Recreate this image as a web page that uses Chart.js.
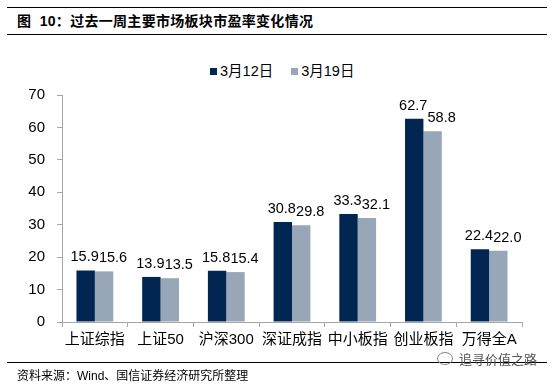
<!DOCTYPE html>
<html>
<head>
<meta charset="utf-8">
<script src="https://cdn.jsdelivr.net/npm/chart.js@4"></script>
<style>
  body { margin: 0; background: #fff; }
  #wrap { position: relative; width: 556px; height: 384px; overflow: hidden;
          font-family: "Liberation Sans", "Noto Sans CJK SC", sans-serif; }
  canvas { position: absolute; left: 0; top: 0; }
  .rule { position: absolute; left: 7px; width: 540px; height: 1px; background: #000; }
  #title { position: absolute; left: 17px; top: 12px; font-size: 14px; font-weight: bold; line-height: 18px; white-space: nowrap; letter-spacing: 0.3px; }
  #legend { position: absolute; top: 62px; left: 210px; font-size: 14.5px; line-height: 18px; white-space: nowrap; }
  #legend span.box { display: inline-block; width: 7px; height: 7px; margin-right: 3px; vertical-align: 1px; }
  #legend span.item { margin-right: 18px; }
  #source { position: absolute; left: 17px; top: 368px; font-size: 12px; line-height: 16px; white-space: nowrap; }
  #mark { position: absolute; left: 437px; top: 352px; font-size: 13px; line-height: 16px; color: #555; white-space: nowrap; }
  #mark i { display: inline-block; width: 14px; height: 11px; border: 1px solid #888; border-radius: 50%; margin-right: 6px; vertical-align: -1px; }
</style>
</head>
<body>
<div id="wrap">
  <div class="rule" style="top:7px"></div>
  <div id="title">图&nbsp;&nbsp;10：过去一周主要市场板块市盈率变化情况</div>
  <div class="rule" style="top:34px"></div>
  <div id="legend"></div>
  <canvas id="chart" width="556" height="384"></canvas>
  <div class="rule" style="top:362px"></div>
  <div id="mark"><i></i>追寻价值之路</div>
  <div id="source">资料来源：Wind、国信证券经济研究所整理</div>
</div>
<script>
// categories and values
const categories = ["上证综指", "上证50", "沪深300", "深证成指", "中小板指", "创业板指", "万得全A"];
const seriesNames = ["3月12日", "3月19日"];
const mar12 = [15.9, 13.9, 15.8, 30.8, 33.3, 62.7, 22.4];
const mar19 = [15.6, 13.5, 15.4, 29.8, 32.1, 58.8, 22.0];
const yTicks = [0, 10, 20, 30, 40, 50, 60, 70];

const colors = ['#002651', '#97a7b7'];
const fontFamily = '"Liberation Sans", "Noto Sans CJK SC", sans-serif';

// value labels above each bar, second series nudged right like the original
const barLabels = {
  id: 'barLabels',
  afterDatasetsDraw(chart) {
    const ctx = chart.ctx;
    ctx.save();
    ctx.font = '14.5px ' + fontFamily;
    ctx.fillStyle = '#000';
    ctx.textAlign = 'center';
    ctx.textBaseline = 'alphabetic';
    chart.data.datasets.forEach((ds, i) => {
      const meta = chart.getDatasetMeta(i);
      meta.data.forEach((bar, j) => {
        const shift = i === 1 ? 9 : -1;
        ctx.fillText(ds.data[j].toFixed(1), bar.x + shift, bar.y - 9);
      });
    });
    ctx.restore();
  }
};

const axisGrid = {
  drawOnChartArea: false,
  drawTicks: true,
  tickLength: 5,
  color: '#a6a6a6'
};

const chart = new Chart(document.getElementById('chart'), {
  type: 'bar',
  data: {
    labels: categories,
    datasets: [
      { label: seriesNames[0], data: mar12, backgroundColor: colors[0] },
      { label: seriesNames[1], data: mar19, backgroundColor: colors[1] }
    ]
  },
  options: {
    responsive: false,
    animation: false,
    categoryPercentage: 0.56,
    barPercentage: 1.0,
    layout: { padding: { left: 0, right: 34, top: 95, bottom: 32 } },
    plugins: {
      legend: { display: false },
      tooltip: { enabled: false }
    },
    scales: {
      x: {
        grid: axisGrid,
        border: { color: '#a6a6a6' },
        ticks: { color: '#000', font: { family: fontFamily, size: 15 }, padding: 4, maxRotation: 0 },
        afterFit: (s) => { s.height = 30; }
      },
      y: {
        min: yTicks[0],
        max: yTicks[yTicks.length - 1],
        afterBuildTicks: (s) => { s.ticks = yTicks.map(v => ({ value: v })); },
        grid: axisGrid,
        border: { color: '#a6a6a6' },
        ticks: { color: '#000', font: { family: fontFamily, size: 15 }, padding: 12 },
        afterFit: (s) => { s.width = 62; }
      }
    }
  },
  plugins: [barLabels]
});

// html legend built from the chart's datasets
document.getElementById('legend').innerHTML = chart.data.datasets.map(ds =>
  '<span class="item"><span class="box" style="background:' + ds.backgroundColor + '"></span>' + ds.label + '</span>'
).join('');
</script>
</body>
</html>
